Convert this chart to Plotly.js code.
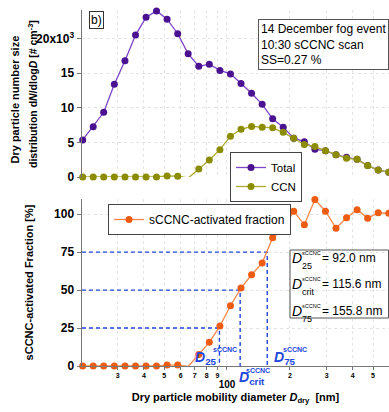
<!DOCTYPE html>
<html>
<head>
<meta charset="utf-8">
<script src="https://cdn.plot.ly/plotly-3.0.1.min.js"></script>
<style>html,body{margin:0;padding:0;background:#fff;}#chart{width:389px;height:412px;}</style>
</head>
<body>
<div id="chart"></div>
<script>
// ---- data ----
const diam = [20.4, 22.9, 25.7, 28.9, 32.5, 36.5, 41.0, 46.0, 51.7, 58.1, 65.2, 73.3, 82.3, 92.5, 103.9,
              116.7, 131.1, 147.3, 165.4, 185.8, 208.7, 234.5, 263.4, 295.9, 332.4, 373.3, 419.4, 471.1, 529.2, 594.5];
const totalConc = [5350, 7270, 9350, 13400, 16800, 20500, 23100, 24000, 22800, 20700, 17800, 16000, 16300, 15400, 14900,
                   13500, 12100, 10500, 8400, 7200, 5600, 5100, 4000, 3800, 3200, 2850, 2550, 1650, 1000, 700];
const ccnConc = [0, 0, 0, 0, 0, 0, 0, 0, 150, 120, -150, 1150, 2450, 3950, 5900,
                 6900, 7300, 7200, 7100, 6450, 5600, 4700, 4400, 3800, 3200, 2700, 2550, 1650, 1000, 700];
const actFrac = [0, 0, 0, 0, 0, 0, 0, 0, 0.6, 0.6, -0.3, 7.5, 15.6, 26.3, 39.7,
                 51.3, 60.1, 67.8, 84.5, 90.1, 102.0, 93.0, 109.7, 102.0, 90.8, 97.6, 103.0, 97.4, 100.9, 100.6];
const dLabels = ['25', 'crit', '75'];
const dValues = [92.0, 115.6, 155.8];
const dLevels = [25, 50, 75];
const xTickVals = [30, 40, 50, 60, 70, 80, 90, 100, 200, 300, 400, 500];
const xTickText = ['3', '4', '5', '6', '7', '8', '9', '100', '2', '3', '4', '5'];
const topTickVals = [0, 5000, 10000, 15000, 20000];
const topTickText = ['0', '5', '10', '15', '20x10<sup>3</sup>'];
const botTickVals = [0, 25, 50, 75, 100];
const xRange = [20.24, 596];

// ---- styling ----
const FONT = 'Liberation Sans, Arial, sans-serif';
const PURPLE_L = '#7d45c8', PURPLE_M = '#4a1190';
const OLIVE_L = '#abab2e', OLIVE_M = '#8c8c00';
const ORANGE_L = '#f6884a', ORANGE_M = '#ee5b12';
const BLUE = '#2146dc';
const AX = '#777777', GRID = '#e4e4e4';

// pixel -> paper helpers for the plot area (l=82, r=0, t=10, b=46)
const PL = 82, PW = 307, PT = 10, PH = 356;
const px2x = p => (p - PL) / PW;
const py2y = p => (PT + PH - p) / PH;

const traces = [];
// blue dashed guides (behind)
dValues.forEach((d, i) => {
  traces.push({
    x: [xRange[0], d, d], y: [dLevels[i], dLevels[i], 0],
    xaxis: 'x', yaxis: 'y', mode: 'lines', showlegend: false, hoverinfo: 'skip',
    line: {color: BLUE, width: 1.4, dash: '4px,3px'}
  });
});
traces.push({
  x: diam, y: actFrac, xaxis: 'x', yaxis: 'y', name: 'sCCNC-activated fraction',
  mode: 'lines+markers', cliponaxis: false, legend: 'legend2',
  line: {color: ORANGE_L, width: 1.3}, marker: {color: ORANGE_M, size: 7}
});
traces.push({
  x: diam, y: totalConc, xaxis: 'x2', yaxis: 'y2', name: 'Total',
  mode: 'lines+markers', cliponaxis: false, legend: 'legend',
  line: {color: PURPLE_L, width: 1.3}, marker: {color: PURPLE_M, size: 7}
});
traces.push({
  x: diam, y: ccnConc, xaxis: 'x2', yaxis: 'y2', name: 'CCN',
  mode: 'lines+markers', cliponaxis: false, legend: 'legend',
  line: {color: OLIVE_L, width: 1.3}, marker: {color: OLIVE_M, size: 7}
});

const xTickTextFmt = xTickText.map(t => t === '100' ? "<br><span style='font-size:10px'>100</span>" : t);

const annotations = [
  {xref: 'paper', yref: 'paper', x: px2x(96.5), y: py2y(20), xanchor: 'center', yanchor: 'middle',
   text: 'b)', showarrow: false,
   bordercolor: '#333', borderwidth: 1, borderpad: 1, font: {size: 12, color: '#000'}},
  {xref: 'paper', yref: 'paper', x: px2x(258), y: py2y(19), xanchor: 'left', yanchor: 'top', align: 'left',
   text: '14 December fog event<br>10:30 sCCNC scan<br>SS=0.27 %', showarrow: false,
   bordercolor: '#555', borderwidth: 1, borderpad: 2, bgcolor: '#fff', font: {size: 12, color: '#000'}},
  {xref: 'paper', yref: 'paper', x: px2x(14.5), y: py2y(100), xanchor: 'center', yanchor: 'middle',
   textangle: -90, showarrow: false, borderpad: 0,
   text: 'Dry particle number size', font: {size: 11, weight: 'bold', color: '#000'}},
  {xref: 'paper', yref: 'paper', x: px2x(32), y: py2y(94), xanchor: 'center', yanchor: 'middle',
   textangle: -90, showarrow: false, borderpad: 0,
   text: 'distribution d<i>N</i>/dlog<i>D</i> [# cm<sup>-3</sup>]', font: {size: 10.5, weight: 'bold', color: '#000'}}
];

// blue in-plot labels, anchored at each D value on the x axis
const blueMain = [{anchor: 'right', dx: -1, dy: 8}, {anchor: 'left', dx: -2, dy: -12}, {anchor: 'left', dx: 6, dy: 8}];
const blueSup = [{dx: -7, dy: 17}, {dx: 5, dy: -4}, {dx: 15, dy: 17}];
dValues.forEach((d, i) => {
  annotations.push({xref: 'x', yref: 'y', x: Math.log10(d), y: 0, showarrow: false,
    xanchor: blueMain[i].anchor, yanchor: 'middle', xshift: blueMain[i].dx, yshift: blueMain[i].dy,
    borderpad: 0, text: '<i>D</i><sub>' + dLabels[i] + '</sub>', font: {size: 14, weight: 'bold', color: BLUE}});
  annotations.push({xref: 'x', yref: 'y', x: Math.log10(d), y: 0, showarrow: false,
    xanchor: 'left', yanchor: 'middle', xshift: blueSup[i].dx, yshift: blueSup[i].dy,
    borderpad: 0, text: 'sCCNC', font: {size: 7, weight: 'bold', color: BLUE}});
});

// result box with D values
const boxLines = [257.5, 284, 311];
dValues.forEach((d, i) => {
  const c = boxLines[i];
  annotations.push({xref: 'paper', yref: 'paper', x: px2x(291), y: py2y(c), xanchor: 'left', yanchor: 'middle',
    showarrow: false, borderpad: 0, text: '<i>D</i>', font: {size: 14, color: '#000'}});
  annotations.push({xref: 'paper', yref: 'paper', x: px2x(300.5), y: py2y(c - 5), xanchor: 'left', yanchor: 'middle',
    showarrow: false, text: 'sCCNC', borderpad: 0, font: {size: 5.5, color: '#000'}});
  annotations.push({xref: 'paper', yref: 'paper', x: px2x(301), y: py2y(c + 8), xanchor: 'left', yanchor: 'middle',
    showarrow: false, text: dLabels[i], borderpad: 0, font: {size: 9, color: '#000'}});
  annotations.push({xref: 'paper', yref: 'paper', x: px2x(320.5), y: py2y(c), xanchor: 'left', yanchor: 'middle',
    showarrow: false, text: '= ' + d.toFixed(1) + ' nm', borderpad: 0, font: {size: 12, color: '#000'}});
});

const shapes = [
  {type: 'rect', xref: 'paper', yref: 'paper', x0: px2x(290), x1: px2x(388.5), y0: py2y(318), y1: py2y(250),
   line: {color: '#555', width: 1}, fillcolor: 'rgba(255,255,255,0)'}
];

const gridAxis = {showgrid: true, gridcolor: GRID, griddash: 'dot', gridwidth: 1, zeroline: false};

const layout = {
  width: 389, height: 412,
  margin: {l: PL, r: 0, t: PT, b: 46},
  paper_bgcolor: '#fff', plot_bgcolor: '#fff',
  font: {family: FONT, color: '#000', size: 12},
  showlegend: true,
  xaxis: Object.assign({}, gridAxis, {
    type: 'log', range: xRange.map(Math.log10), domain: [0, 1], anchor: 'y',
    tickmode: 'array', tickvals: xTickVals, ticktext: xTickTextFmt, tickangle: 0,
    tickfont: {size: 7, weight: 'bold', color: '#000'},
    ticks: 'outside', ticklen: 3, tickcolor: AX, showline: true, linecolor: AX, linewidth: 1,
    automargin: false,
    title: {text: 'Dry particle mobility diameter <i>D</i><sub>dry</sub>  [nm]', standoff: 4,
            font: {size: 11, weight: 'bold', color: '#000'}}
  }),
  xaxis2: Object.assign({}, gridAxis, {
    type: 'log', matches: 'x', anchor: 'y2', domain: [0, 1],
    tickmode: 'array', tickvals: xTickVals, showticklabels: false, ticks: '', showline: false
  }),
  yaxis: Object.assign({}, gridAxis, {
    domain: [0, py2y(199)], range: [0, 110], anchor: 'x',
    tickmode: 'array', tickvals: botTickVals,
    tickfont: {size: 12, weight: 'bold', color: '#000'},
    ticks: 'outside', ticklen: 4, tickcolor: AX, showline: true, linecolor: AX, linewidth: 1.5,
    automargin: false,
    title: {text: 'sCCNC-activated Fraction [%]', standoff: 18, font: {size: 11, weight: 'bold', color: '#000'}}
  }),
  yaxis2: Object.assign({}, gridAxis, {
    domain: [py2y(177), 1], range: [0, 24130], anchor: 'x2',
    tickmode: 'array', tickvals: topTickVals, ticktext: topTickText,
    tickfont: {size: 12, weight: 'bold', color: '#000'},
    ticks: 'outside', ticklen: 4, tickcolor: AX, showline: true, linecolor: AX, linewidth: 1.5,
    automargin: false
  }),
  legend: {x: px2x(230), y: py2y(152), xanchor: 'left', yanchor: 'top', bgcolor: '#fff',
           bordercolor: '#444', borderwidth: 1, font: {size: 11.5, color: '#000'}, itemwidth: 30,
           tracegroupgap: 0},
  legend2: {x: px2x(108), y: py2y(204), xanchor: 'left', yanchor: 'top', bgcolor: '#fff',
            bordercolor: '#444', borderwidth: 1, font: {size: 12, color: '#000'}, itemwidth: 30},
  annotations: annotations,
  shapes: shapes
};

Plotly.newPlot('chart', traces, layout, {displayModeBar: false, staticPlot: true});
</script>
</body>
</html>
